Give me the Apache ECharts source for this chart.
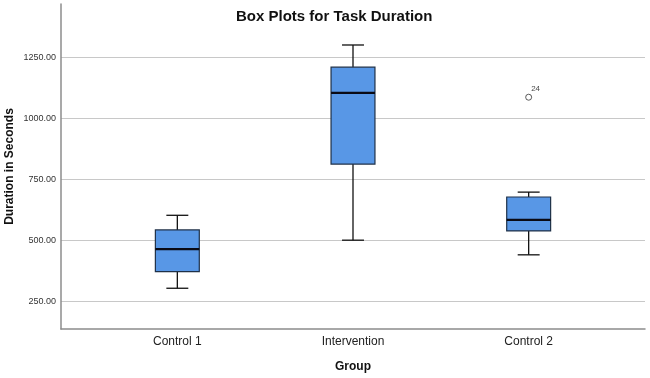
<!DOCTYPE html>
<html>
<head>
<meta charset="utf-8">
<script src="https://cdn.jsdelivr.net/npm/echarts@6/dist/echarts.min.js"></script>
<style>
  html, body { margin: 0; padding: 0; background: #fff; }
  #chart { width: 650px; height: 378px; }
</style>
</head>
<body>
<div id="chart"></div>
<script>
// box plot data
var groups = ['Control 1', 'Intervention', 'Control 2'];
var whiskerLow = [303, 500, 440];
var q1 = [371, 812, 538];
var median = [463, 1104, 583];
var q3 = [542, 1209, 677];
var whiskerHigh = [602, 1300, 697];
var outliers = [[2, 1086, '24']];
var yTicks = [250, 500, 750, 1000, 1250];

var FONT = "'Liberation Sans', Arial, sans-serif";
var yMin = 136, yMax = 1468;

var boxData = [];
for (var i = 0; i < groups.length; i++) {
	boxData.push([i, whiskerLow[i], q1[i], median[i], q3[i], whiskerHigh[i]]);
}

function renderBox(params, api) {
	var idx = api.value(0);
	var x = api.coord([idx, api.value(3)])[0];
	var yLo = api.coord([idx, api.value(1)])[1];
	var yQ1 = api.coord([idx, api.value(2)])[1];
	var yMed = api.coord([idx, api.value(3)])[1];
	var yQ3 = api.coord([idx, api.value(4)])[1];
	var yHi = api.coord([idx, api.value(5)])[1];
	var band = api.size([1, 0])[0];
	var bw = band * 0.25;
	var cw = bw * 0.5;
	var lineStyle = { stroke: '#111', lineWidth: 1.3 };
	return {
		type: 'group',
		children: [
			{ type: 'line', shape: { x1: x, y1: yQ1, x2: x, y2: yLo }, style: lineStyle },
			{ type: 'line', shape: { x1: x, y1: yQ3, x2: x, y2: yHi }, style: lineStyle },
			{ type: 'line', shape: { x1: x - cw / 2, y1: yLo, x2: x + cw / 2, y2: yLo }, style: lineStyle },
			{ type: 'line', shape: { x1: x - cw / 2, y1: yHi, x2: x + cw / 2, y2: yHi }, style: lineStyle },
			{ type: 'rect', shape: { x: x - bw / 2, y: yQ3, width: bw, height: yQ1 - yQ3 },
				style: { fill: '#5897e6', stroke: '#1f3148', lineWidth: 1.2 } },
			{ type: 'line', shape: { x1: x - bw / 2, y1: yMed, x2: x + bw / 2, y2: yMed },
				style: { stroke: '#0a0a14', lineWidth: 2.2 } }
		]
	};
}

var chart = echarts.init(document.getElementById('chart'));
chart.setOption({
	animation: false,
	backgroundColor: '#fff',
	title: {
		text: 'Box Plots for Task Duration',
		left: 231, top: 4,
		textStyle: { fontFamily: FONT, fontSize: 15, fontWeight: 'bold', color: '#111' }
	},
	grid: [
		{ left: 61, right: 5, top: 4, bottom: 49, outerBoundsMode: 'none', containLabel: false },
		{ left: 89.5, right: 33.5, top: 4, bottom: 49, outerBoundsMode: 'none', containLabel: false }
	],
	xAxis: [
		{
			gridIndex: 0, type: 'value', min: 0, max: 1,
			axisLine: { show: true, lineStyle: { color: '#8c8c8c', width: 1.5 } },
			axisTick: { show: false }, axisLabel: { show: false }, splitLine: { show: false }
		},
		{
			gridIndex: 1, type: 'category', data: groups,
			axisLine: { show: false }, axisTick: { show: false },
			axisLabel: { margin: 7, fontFamily: FONT, fontSize: 12, color: '#222' },
			name: 'Group', nameLocation: 'middle', nameGap: 32, nameMoveOverlap: false,
			nameTextStyle: { fontFamily: FONT, fontSize: 12, fontWeight: 'bold', color: '#111' }
		}
	],
	yAxis: [
		{
			gridIndex: 0, type: 'value', min: yMin, max: yMax,
			axisLine: { show: true, lineStyle: { color: '#8c8c8c', width: 1.5 } },
			axisTick: { show: false, customValues: yTicks },
			axisLabel: {
				customValues: yTicks, margin: 5,
				fontFamily: FONT, fontSize: 9, color: '#333',
				formatter: function (v) { return v.toFixed(2); }
			},
			splitLine: { show: true, lineStyle: { color: '#c8c8c8', width: 1.2 } },
			name: 'Duration in Seconds', nameLocation: 'middle', nameGap: 45, nameMoveOverlap: false,
			nameTextStyle: { fontFamily: FONT, fontSize: 12, fontWeight: 'bold', color: '#111' }
		},
		{
			gridIndex: 1, type: 'value', min: yMin, max: yMax, show: false
		}
	],
	series: [
		{
			type: 'custom', xAxisIndex: 1, yAxisIndex: 1,
			renderItem: renderBox,
			encode: { x: 0, y: [1, 2, 3, 4, 5] },
			data: boxData, z: 3
		},
		{
			type: 'scatter', xAxisIndex: 1, yAxisIndex: 1,
			symbol: 'circle', symbolSize: 6,
			itemStyle: { color: '#fff', borderColor: '#333', borderWidth: 1 },
			label: {
				show: true, position: [6, -9],
				formatter: function (p) { return p.data[2]; },
				fontFamily: FONT, fontSize: 8, color: '#111'
			},
			data: outliers, z: 4
		}
	]
});
</script>
</body>
</html>
